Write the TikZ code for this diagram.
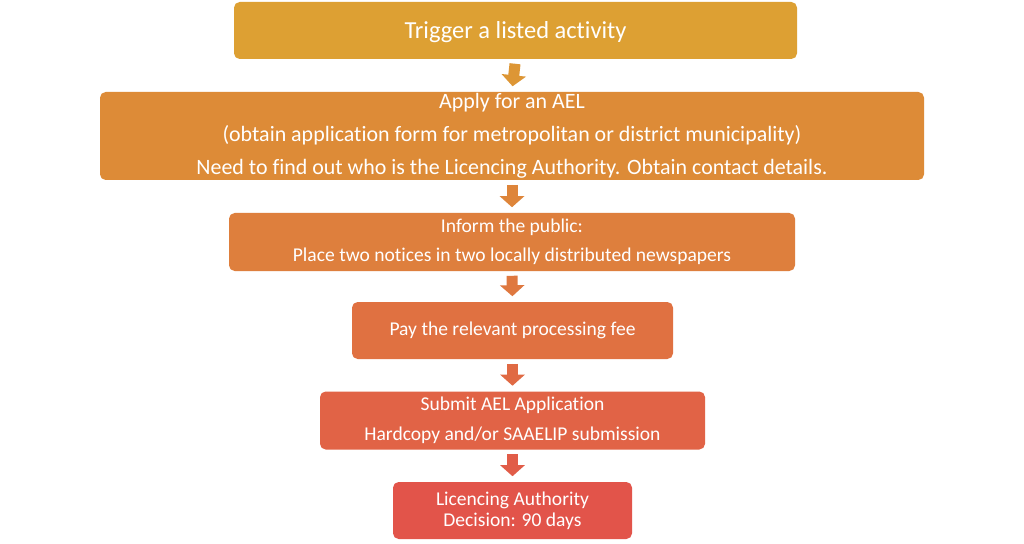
\documentclass[tikz,border=0pt]{standalone}
\usepackage{fontspec}
\setmainfont{Carlito}[Ligatures=NoCommon]
\usetikzlibrary{arrows.meta}

\definecolor{cstep1}{HTML}{DDA033}
\definecolor{cstep2}{HTML}{DD8B37}
\definecolor{cstep3}{HTML}{DE7F3D}
\definecolor{cstep4}{HTML}{E07141}
\definecolor{cstep5}{HTML}{E16346}
\definecolor{cstep6}{HTML}{E2544A}

\tikzset{
	stepbox/.style={rounded corners=4pt, text=white, align=center, inner sep=0pt,
		font=\fontsize{13.9}{21}\selectfont},
	blockarrow/.style={line width=11*0.025cm, shorten <=4.5*0.025cm, shorten >=5.5*0.025cm,
		-{Triangle[width=24*0.025cm, length=11*0.025cm]}}
}

\begin{document}
\begin{tikzpicture}[x=0.025cm, y=-0.025cm]
	\useasboundingbox[fill=white] (0,0) rectangle (1024,544);
	
	\node[stepbox, fill=cstep1, minimum width=563*0.025cm, minimum height=57*0.025cm, font=\fontsize{17.4}{20}\selectfont, text depth=1pt] (trigger) at (515.5,30.5) {Trigger a listed activity};
	\node[stepbox, fill=cstep2, minimum width=824*0.025cm, minimum height=88*0.025cm, font=\fontsize{15.6}{23.5}\selectfont] (apply) at (512,136) {Apply for an AEL\\(obtain application form for metropolitan or district municipality)\\Need to find out who is the Licencing Authority. Obtain contact details.};
	\node[stepbox, fill=cstep3, minimum width=566*0.025cm, minimum height=58*0.025cm] (inform) at (512,242) {Inform the public:\\Place two notices in two locally distributed newspapers};
	\node[stepbox, fill=cstep4, minimum width=321*0.025cm, minimum height=57*0.025cm] (pay) at (512.5,330.5) {Pay the relevant processing fee};
	\node[stepbox, fill=cstep5, minimum width=385*0.025cm, minimum height=58*0.025cm] (submit) at (512.5,420.5) {Submit AEL Application\\Hardcopy and/or SAAELIP submission};
	\node[stepbox, fill=cstep6, minimum width=239*0.025cm, minimum height=57*0.025cm, font=\fontsize{13.9}{15}\selectfont] (decision) at (512.5,510.5) {Licencing Authority\\Decision: 90 days};
	
	\draw[blockarrow, draw=cstep1!50!cstep2, fill=cstep1!50!cstep2] (trigger.south) -- (apply.north);
	\draw[blockarrow, draw=cstep2!50!cstep3, fill=cstep2!50!cstep3] (apply.south) -- (inform.north);
	\draw[blockarrow, draw=cstep3!50!cstep4, fill=cstep3!50!cstep4] (inform.south) -- (pay.north);
	\draw[blockarrow, draw=cstep4!50!cstep5, fill=cstep4!50!cstep5] (pay.south) -- (submit.north);
	\draw[blockarrow, draw=cstep5!50!cstep6, fill=cstep5!50!cstep6] (submit.south) -- (decision.north);
	
\end{tikzpicture}
\end{document}
